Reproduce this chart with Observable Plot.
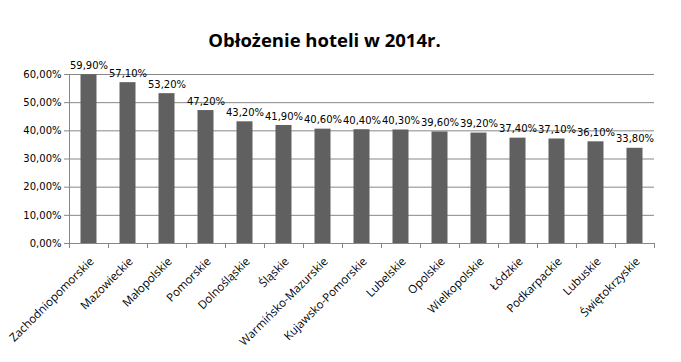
<!DOCTYPE html>
<html>
<head>
<meta charset="utf-8">
<script src="https://cdn.jsdelivr.net/npm/d3@7"></script>
<script src="https://cdn.jsdelivr.net/npm/@observablehq/plot@0.6"></script>
<style>
  html, body { margin: 0; padding: 0; background: #fff; }
</style>
</head>
<body>
<div id="chart"></div>
<script>
const title = "Obłożenie hoteli w 2014r.";
const regions = ["Zachodniopomorskie", "Mazowieckie", "Małopolskie", "Pomorskie", "Dolnośląskie", "Śląskie", "Warmińsko-Mazurskie", "Kujawsko-Pomorskie", "Lubelskie", "Opolskie", "Wielkopolskie", "Łódzkie", "Podkarpackie", "Lubuskie", "Świętokrzyskie"];
const occupancy = [59.9, 57.1, 53.2, 47.2, 43.2, 41.9, 40.6, 40.4, 40.3, 39.6, 39.2, 37.4, 37.1, 36.1, 33.8];
const yTicks = [0, 10, 20, 30, 40, 50, 60];

const data = regions.map((r, i) => ({region: r, value: occupancy[i]}));
const pct = v => v.toFixed(2).replace(".", ",") + "%";
const gridColor = "#878787";

const chart = Plot.plot({
  width: 681,
  height: 362,
  marginTop: 74,
  marginBottom: 119,
  marginLeft: 69,
  marginRight: 27,
  style: {background: "#fff", overflow: "visible"},
  x: {domain: regions, padding: 0},
  y: {domain: [0, 60]},
  marks: [
    Plot.gridY(yTicks, {stroke: gridColor, strokeOpacity: 1}),
    Plot.axisY(yTicks, {tickSize: 5, tickPadding: 3, stroke: gridColor, tickFormat: pct, fontSize: 10, fontFamily: "DejaVu Sans", fill: "#000", label: null}),
    Plot.ruleX([regions[0]], {x: d => d, dx: -19.5, stroke: gridColor, insetBottom: -5}),
    Plot.ruleX(regions.slice(1), {x: d => d, dx: -19.5, stroke: gridColor, insetTop: 169, insetBottom: -5}),
    Plot.ruleX([regions[regions.length - 1]], {x: d => d, dx: 19.5, stroke: gridColor, insetTop: 169, insetBottom: -5}),
    Plot.barY(data, {x: "region", y: "value", fill: "#606060", insetLeft: 11.5, insetRight: 11.5}),
    Plot.text(data, {x: "region", y: "value", text: d => pct(d.value), dy: -9, fontSize: 10, fontFamily: "DejaVu Sans", fill: "#000"}),
    Plot.axisX({tickSize: 0, tickPadding: 16, dx: 3, tickRotate: -45, fontSize: 11.5, fontFamily: "Open Sans", fill: "#000", label: null}),
    Plot.text([title], {frameAnchor: "top", dy: -41, dx: -37.5, fontSize: 18.5, fontWeight: "bold", fontFamily: "Open Sans", fill: "#000"})
  ]
});
document.getElementById("chart").appendChild(chart);
</script>
</body>
</html>
